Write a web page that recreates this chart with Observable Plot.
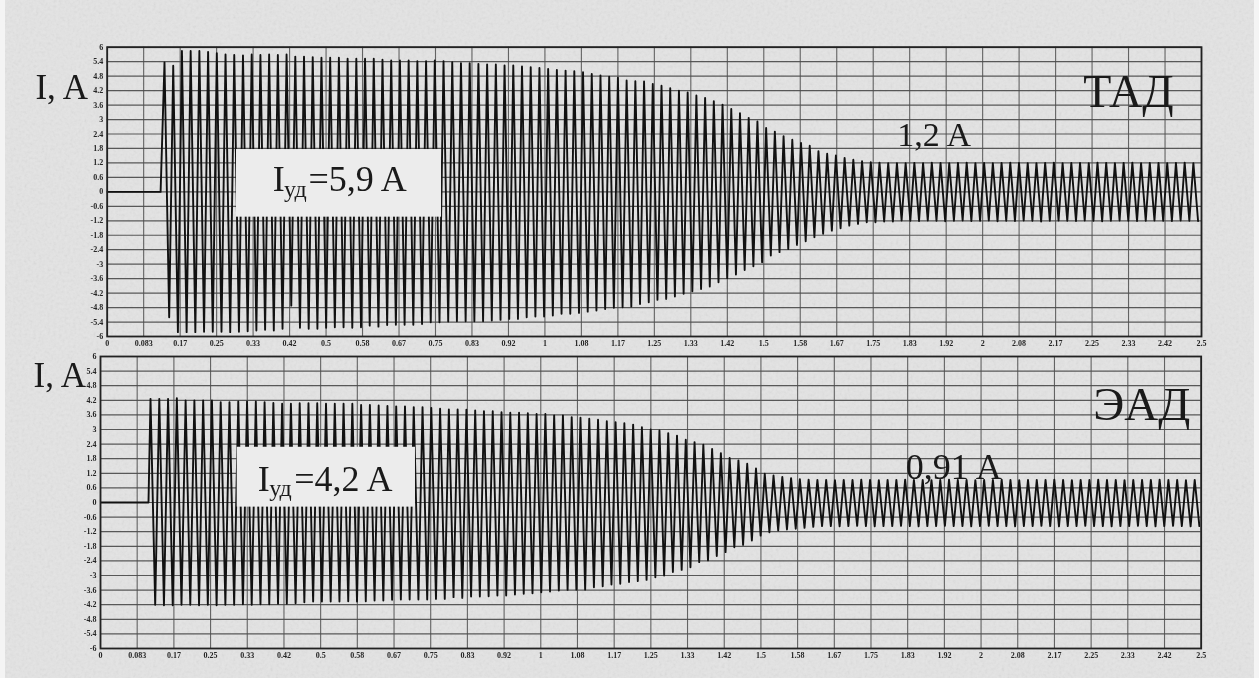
<!DOCTYPE html>
<html>
<head>
<meta charset="utf-8">
<script src="https://cdn.jsdelivr.net/npm/d3@7"></script>
<script src="https://cdn.jsdelivr.net/npm/@observablehq/plot@0.6"></script>
<style>
html,body{margin:0;padding:0;width:1259px;height:678px;overflow:hidden;background:#f4f4f4}
#sheet{position:absolute;left:5px;top:0;width:1249px;height:678px;background:#e4e4e4}
#noise{position:absolute;left:5px;top:0;width:1249px;height:678px;opacity:.16}
.panel{position:absolute;left:0}
.panel svg{background:transparent!important;filter:blur(.5px);display:block}
</style>
</head>
<body>
<div id="sheet"></div>
<svg id="noise" xmlns="http://www.w3.org/2000/svg"><filter id="n"><feTurbulence type="fractalNoise" baseFrequency=".35" numOctaves="2" seed="4"/><feColorMatrix type="saturate" values="0"/></filter><rect width="100%" height="100%" filter="url(#n)"/></svg>
<div id="top" class="panel" style="top:0"></div>
<div id="bottom" class="panel" style="top:350px"></div>
<script>
// Vertical gridlines and their printed labels (seconds)
const xTickLabels = ["0","0.083","0.17","0.25","0.33","0.42","0.5","0.58","0.67","0.75","0.83","0.92","1","1.08","1.17","1.25","1.33","1.42","1.5","1.58","1.67","1.75","1.83","1.92","2","2.08","2.17","2.25","2.33","2.42","2.5"];
const xTicks = [0,0.0833,0.1667,0.25,0.3333,0.4167,0.5,0.5833,0.6667,0.75,0.8333,0.9167,1,1.0833,1.1667,1.25,1.3333,1.4167,1.5,1.5833,1.6667,1.75,1.8333,1.9167,2,2.0833,2.1667,2.25,2.3333,2.4167,2.5];
const yTicks = [6,5.4,4.8,4.2,3.6,3,2.4,1.8,1.2,0.6,0,-0.6,-1.2,-1.8,-2.4,-3,-3.6,-4.2,-4.8,-5.4,-6];

// ТАД: successive positive and negative current peaks, read cycle by cycle
const tadPos = [5.37,5.23,5.84,5.84,5.84,5.80,5.75,5.70,5.68,5.66,5.70,5.68,5.70,5.68,
 5.70,5.61,5.61,5.59,5.56,5.56,5.56,5.52,5.52,5.52,5.52,5.48,5.45,5.45,5.45,5.42,5.42,5.45,5.42,5.38,5.34,5.34,5.31,5.28,5.28,5.24,5.24,5.20,5.17,5.14,5.10,5.06,5.03,5.00,4.96,4.89,
 4.83,4.78,4.73,4.62,4.59,4.58,4.48,4.40,4.30,4.20,4.12,4.00,3.90,3.76,3.62,3.44,3.26,3.07,2.92,2.65,2.50,2.31,2.16,2.03,1.91,1.69,1.58,1.51,1.41,1.33,1.27,1.23,1.21,1.19,1.19,1.19,
 1.20,1.19,1.21,1.20,1.19,1.20,1.21,1.19,1.20,1.19,1.20,1.21,1.20,1.19,1.19,1.20,1.21,1.19,1.20,1.20,1.19,1.21,1.20,1.19,1.20,1.21,1.19,1.20,1.20,1.19,1.20,1.21,1.19];
const tadNeg = [-5.20,-5.82,-5.82,-5.82,-5.80,-5.80,-5.80,-5.82,-5.80,-5.78,-5.75,-5.72,-5.75,-5.68,-4.72,
 -5.64,-5.68,-5.68,-5.64,-5.62,-5.62,-5.64,-5.62,-5.55,-5.59,-5.52,-5.51,-5.51,-5.51,-5.48,-5.41,-5.41,-5.38,-5.37,-5.37,-5.37,-5.37,-5.34,-5.31,-5.27,-5.27,-5.20,-5.17,-5.17,-5.13,-5.06,-5.06,-5.02,-4.97,
 -4.92,-4.86,-4.81,-4.79,-4.76,-4.65,-4.58,-4.48,-4.44,-4.34,-4.23,-4.12,-4.03,-3.93,-3.75,-3.58,-3.43,-3.24,-3.09,-2.92,-2.64,-2.50,-2.37,-2.20,-2.05,-1.88,-1.74,-1.61,-1.51,-1.40,-1.33,-1.26,-1.26,-1.23,-1.23,-1.19,
 -1.20,-1.21,-1.19,-1.20,-1.22,-1.20,-1.19,-1.21,-1.20,-1.19,-1.22,-1.20,-1.21,-1.19,-1.20,-1.23,-1.20,-1.19,-1.20,-1.21,-1.19,-1.20,-1.22,-1.20,-1.19,-1.20,-1.21,-1.20,-1.19,
 -1.20,-1.21,-1.19,-1.20,-1.21,-1.20];

// ЭАД: successive positive and negative current peaks
const eadPos = [4.26,4.26,4.26,4.29,4.19,4.19,4.19,4.19,4.12,4.12,4.15,4.15,4.15,4.12,4.09,
 4.06,4.06,4.08,4.08,4.08,4.06,4.06,4.06,4.06,4.01,
 4.01,3.99,3.97,3.95,3.95,3.92,3.92,3.89,3.85,3.82,
 3.82,3.81,3.78,3.75,3.75,3.71,3.69,3.69,3.67,3.64,
 3.64,3.58,3.58,3.51,3.48,3.44,3.40,3.34,3.30,3.26,
 3.20,3.09,3.00,2.96,2.85,2.75,2.58,2.48,2.38,2.20,
 2.03,1.83,1.73,1.59,1.40,1.18,1.11,1.05,1.00,0.96,
 0.94,0.93,0.93,0.92,0.93,0.93,0.94,0.93,0.92,0.93,0.93,0.94,0.93,0.93,0.92,0.93,0.94,0.93,0.93,0.92,0.93,0.93,0.94,0.93,0.92,0.93,0.93,0.93,0.94,0.93,0.92,0.93,0.93,0.94,0.93,0.93,0.92,0.93,0.93,0.93,0.94,0.93,0.93,0.92,0.93];
const eadNeg = [-4.20,-4.22,-4.22,-4.20,-4.20,-4.22,-4.20,-4.22,-4.20,-4.20,-4.18,-4.20,-4.18,-4.18,-4.16,
 -4.16,-4.14,-4.10,-4.07,-4.07,-4.07,-4.07,-4.06,-4.07,-4.06,
 -4.03,-4.03,-4.00,-3.99,-3.99,-3.99,-3.99,-3.96,-3.96,-3.89,
 -3.92,-3.86,-3.86,-3.85,-3.82,-3.82,-3.78,-3.75,-3.73,-3.69,
 -3.66,-3.62,-3.59,-3.58,-3.58,-3.48,-3.44,-3.37,-3.34,-3.27,
 -3.23,-3.18,-3.07,-3.00,-2.86,-2.77,-2.66,-2.45,-2.38,-2.20,
 -2.04,-1.84,-1.74,-1.56,-1.36,-1.22,-1.15,-1.11,-1.08,-1.04,-1.00,
 -0.97,-0.97,-0.98,-0.97,-0.96,-0.97,-0.98,-0.97,-0.97,-0.96,-0.97,-0.98,-0.97,-0.97,-0.96,-0.97,-0.97,-0.98,-0.97,-0.96,-0.97,-0.97,-0.98,-0.97,-0.97,-0.96,-0.97,-0.98,-0.97,-0.97,-0.96,-0.97,-0.97,-0.98,-0.97,-0.97,-0.96,-0.97,-0.98,
 -0.97,-0.96,-0.97,-0.98,-0.97,-0.97];

const serif = "Liberation Serif, Times New Roman, serif";
const ink = "#262626";

function series(pos, neg, zeroEnd, posStart, negStart, period) {
  const rows = [{t: 0, v: 0}, {t: zeroEnd, v: 0}];
  pos.forEach((v, k) => {
    rows.push({t: posStart + k * period, v});
    if (k < neg.length) rows.push({t: negStart + k * period, v: neg[k]});
  });
  return rows.filter(d => d.t <= 2.5);
}

function panel(o) {
  return Plot.plot({
    width: 1259,
    height: o.height,
    marginLeft: o.left,
    marginRight: o.right,
    marginTop: o.top,
    marginBottom: o.bottom,
    x: {domain: [0, 2.5]},
    y: {domain: [-6, 6]},
    style: {background: "transparent", fontFamily: serif, color: ink},
    marks: [
      Plot.ruleY(yTicks, {stroke: "#404040", strokeWidth: 1.2, strokeOpacity: .85}),
      Plot.ruleX(xTicks, {stroke: "#4c4c4c", strokeWidth: 1.1, strokeOpacity: .85}),
      Plot.line(o.rows, {x: "t", y: "v", stroke: "#111", strokeWidth: 1.9, curve: "linear", clip: true}),
      Plot.rect([o.box], {x1: "x1", x2: "x2", y1: "y1", y2: "y2", fill: "#ececec"}),
      Plot.frame({stroke: "#222", strokeWidth: 1.8}),
      Plot.axisX({ticks: xTicks, tickSize: 0, tickPadding: 4, tickFormat: d => xTickLabels[xTicks.indexOf(d)], fontSize: 8, fontWeight: "bold", label: null}),
      Plot.axisY({ticks: yTicks, tickSize: 0, tickPadding: 4, tickFormat: d => String(d), fontSize: 8, fontWeight: "bold", label: null}),
      Plot.text(o.notes, {x: "x", y: "y", text: "s", fontSize: "size", textAnchor: "start", lineAnchor: "bottom", fill: "#1a1a1a", fontFamily: serif})
    ]
  });
}

document.getElementById("top").append(panel({
  height: 350, left: 106.7, right: 58, top: 46.7, bottom: 14,
  rows: series(tadPos, tadNeg, 0.122, 0.1309, 0.1416, 0.01992),
  box: {x1: 0.2954, x2: 0.7638, y1: -1.05, y2: 1.755},
  notes: [
    {s: "I, A", x: -0.164, y: 3.86, size: 35},
    {s: "I", x: 0.378, y: 0.05, size: 36},
    {s: "уд", x: 0.404, y: -0.2, size: 24},
    {s: "=5,9 A", x: 0.46, y: 0.05, size: 36},
    {s: "1,2 A", x: 1.805, y: 1.92, size: 34},
    {s: "ТАД", x: 2.23, y: 3.5, size: 46}
  ]
}));

document.getElementById("bottom").append(panel({
  height: 328, left: 100, right: 58.3, top: 6, bottom: 30,
  rows: series(eadPos, eadNeg, 0.109, 0.1136, 0.1242, 0.01993),
  box: {x1: 0.3105, x2: 0.7154, y1: -0.19, y2: 2.27},
  notes: [
    {s: "I, A", x: -0.152, y: 4.74, size: 35},
    {s: "I", x: 0.357, y: 0.49, size: 36},
    {s: "уд", x: 0.383, y: 0.25, size: 24},
    {s: "=4,2 A", x: 0.44, y: 0.49, size: 36},
    {s: "0,91 A", x: 1.829, y: 0.97, size: 36},
    {s: "ЭАД", x: 2.255, y: 3.37, size: 47}
  ]
}));
</script>
</body>
</html>
